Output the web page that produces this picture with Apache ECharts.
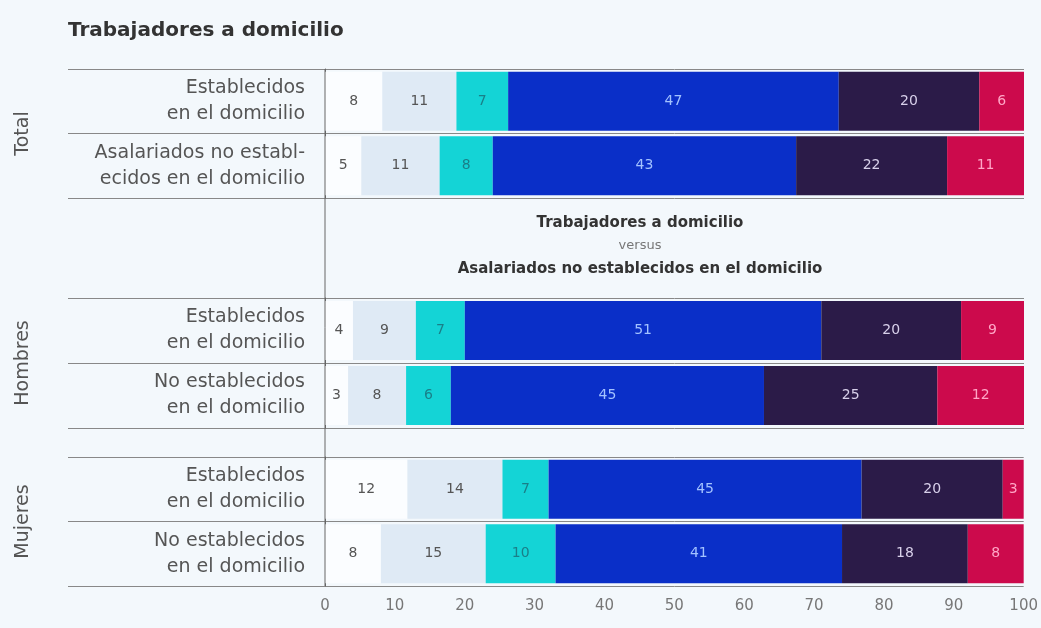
<!DOCTYPE html>
<html>
<head>
<meta charset="utf-8">
<script src="https://cdn.jsdelivr.net/npm/echarts@6/dist/echarts.min.js"></script>
<style>
  html, body { margin: 0; padding: 0; background: #f3f8fc; }
  #chart { width: 1041px; height: 628px; }
</style>
</head>
<body>
<div id="chart"></div>
<script>
// grupos y filas (de arriba a abajo)
const groups = ['Total', 'Hombres', 'Mujeres'];
const rowLabels = [
  ['Establecidos\nen el domicilio', 'Asalariados no establ-\necidos en el domicilio'],
  ['Establecidos\nen el domicilio', 'No establecidos\nen el domicilio'],
  ['Establecidos\nen el domicilio', 'No establecidos\nen el domicilio']
];

// porcentajes por segmento, una entrada por fila (6 filas)
const seg1 = [8.2, 5.2, 4, 3.3, 11.8, 8];
const seg2 = [10.6, 11.2, 9, 8.3, 13.6, 15];
const seg3 = [7.4, 7.6, 7, 6.4, 6.6, 10];
const seg4 = [47.3, 43.4, 51, 44.8, 44.8, 41];
const seg5 = [20.1, 21.6, 20, 24.8, 20.2, 18];
const seg6 = [6.4, 11.0, 9, 12.4, 3.0, 8];

const xTicks = [0, 10, 20, 30, 40, 50, 60, 70, 80, 90, 100];

const segments = [seg1, seg2, seg3, seg4, seg5, seg6];
const segColors = ['#fbfdff', '#dfeaf5', '#14d4d6', '#0a2fc8', '#2b1b48', '#cc0a4c'];
const labelColors = ['#555', '#555', '#1a7f88', '#a3c2ff', '#d8d0ea', '#ffa6c6'];

// layout
const gridLeft = 325;
const gridRight = 17;
const gridTops = [69, 298, 457];
const gridHeights = [129, 130, 129];
const labelAreaLeft = 68;
const FONT = 'DejaVu Sans';

const chart = echarts.init(document.getElementById('chart'));

const grids = [], xAxes = [], yAxes = [], series = [];

groups.forEach((g, gi) => {
  grids.push({ left: gridLeft, right: gridRight, top: gridTops[gi], height: gridHeights[gi] });

  xAxes.push({
    type: 'value',
    gridIndex: gi,
    min: xTicks[0],
    max: xTicks[xTicks.length - 1],
    interval: xTicks[1] - xTicks[0],
    axisLine: { show: false },
    axisTick: { show: false },
    splitLine: { show: false },
    axisLabel: {
      show: gi === groups.length - 1,
      color: '#777',
      fontSize: 15,
      margin: 13
    }
  });

  yAxes.push({
    type: 'category',
    gridIndex: gi,
    inverse: true,
    data: rowLabels[gi],
    axisLine: { show: true, lineStyle: { color: '#666', width: 1 } },
    axisTick: { show: true, length: gridLeft - labelAreaLeft, lineStyle: { color: '#888' } },
    splitLine: { show: true, lineStyle: { color: '#888' } },
    axisLabel: { color: '#555', fontSize: 19, lineHeight: 26, margin: 20, align: 'right' },
    name: g,
    nameLocation: 'middle',
    nameRotate: 90,
    nameGap: 292,
    nameTextStyle: { color: '#555', fontSize: 19 }
  });

  segments.forEach((vals, si) => {
    series.push({
      type: 'bar',
      stack: 'g' + gi,
      xAxisIndex: gi,
      yAxisIndex: gi,
      barWidth: 59,
      itemStyle: { color: segColors[si] },
      label: {
        show: true,
        position: 'inside',
        color: labelColors[si],
        fontSize: 14,
        formatter: (p) => Math.round(p.value)
      },
      data: vals.slice(gi * 2, gi * 2 + 2)
    });
  });
});

const option = {
  backgroundColor: '#f3f8fc',
  animation: false,
  textStyle: { fontFamily: FONT },
  title: {
    text: 'Trabajadores a domicilio',
    left: labelAreaLeft - 5,
    top: 16,
    textStyle: { fontSize: 20, fontWeight: 'bold', color: '#333', fontFamily: FONT }
  },
  grid: grids,
  xAxis: xAxes,
  yAxis: yAxes,
  series: series,
  graphic: [
    {
      type: 'line',
      z: 10,
      shape: { x1: gridLeft, y1: gridTops[0], x2: gridLeft, y2: gridTops[2] + gridHeights[2] },
      style: { stroke: '#666', lineWidth: 1 }
    },
    {
      type: 'text',
      x: 640,
      y: 211,
      style: {
        text: '{b|Trabajadores a domicilio}\n{v|versus}\n{b|Asalariados no establecidos en el domicilio}',
        align: 'center',
        textAlign: 'center',
        verticalAlign: 'top',
        rich: {
          b: { fontSize: 15, fontWeight: 'bold', fill: '#333', color: '#333', lineHeight: 24, fontFamily: FONT, align: 'center' },
          v: { fontSize: 13, fill: '#777', color: '#777', lineHeight: 22, fontFamily: FONT, align: 'center' }
        }
      }
    }
  ]
};

chart.setOption(option);
</script>
</body>
</html>
